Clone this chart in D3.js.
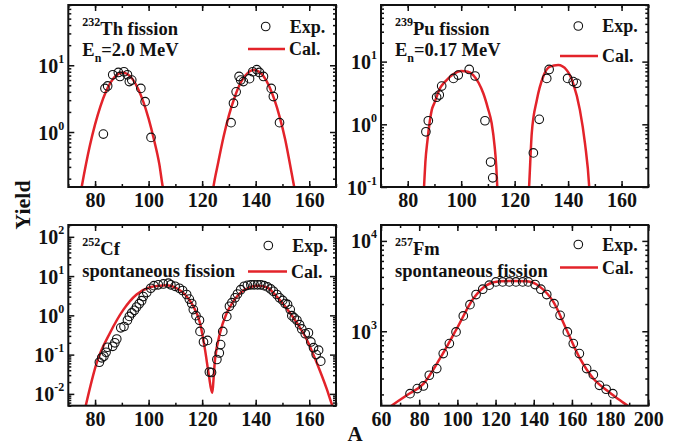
<!DOCTYPE html>
<html><head><meta charset="utf-8">
<script src="https://cdn.jsdelivr.net/npm/d3@7"></script>
<style>
body{margin:0;background:#fff}
text{font-family:"Liberation Serif","Times New Roman",serif;font-weight:bold;fill:#111}
</style>
</head><body><svg id="c" width="689" height="447" font-family="Liberation Serif"></svg>
<script>
// ---------- DATA ----------
const thExpA = [83.1,83.7,84.7,86.6,88.7,89.3,90.8,92.1,92.8,93.7,97.1,98.7,100.9,130.8,131.7,132.7,133.8,134.4,135.4,137.7,138.9,140.4,141.4,142.9,145.8,146.6,148.9];
const thExpY = [0.93,4.5,4.9,7.2,7.8,6.8,8.0,7.2,5.7,6.0,4.5,2.85,0.83,1.38,2.7,4.0,6.8,6.0,5.7,6.3,8.0,8.6,7.8,6.8,4.5,3.4,1.38];
const thCalLA = [74.5,75,78,80,82,84,86,88,90.3,92,94,96,98,100,102,104,105.3,106];
const thCalLY = [0.116,0.15,0.61,1.30,2.43,3.97,5.7,7.1,7.8,7.4,6.2,4.5,2.86,1.59,0.77,0.33,0.15,0.11];
const thCalRA = [123.7,124.2,126,128,130,132,134,136,138,139.4,141,143,145,147,149,151,153,154.4,155];
const thCalRY = [0.11,0.15,0.35,0.85,1.78,3.2,5.1,6.9,8.2,8.5,8.1,6.8,4.9,3.05,1.66,0.78,0.30,0.15,0.115];

const puExpA = [86.8,87.7,90.8,91.8,92.7,97.1,98.9,103.0,105.2,108.9,111.0,111.8,127.0,129.2,132.0,132.9,139.8,141.9,143.2];
const puExpY = [0.76,1.14,2.7,2.93,4.07,5.4,6.1,7.5,5.9,1.14,0.25,0.14,0.35,1.2,5.4,7.5,5.4,4.8,4.5];
const puCalLA = [85.9,86.1,86.6,87.4,89,90,92,94,97,100,102.5,104.5,106.5,108.3,110,111.4,112.5,113.1,113.5,113.7];
const puCalLY = [0.07,0.1,0.25,0.56,1.7,2.2,3.7,4.8,6.3,7.1,6.9,6.1,4.6,3.1,1.8,1.04,0.45,0.22,0.1,0.07];
const puCalRA = [125.2,125.4,126.4,128.3,130.7,133.2,136.3,139.5,141.9,144.4,146.3,147.9,148.1];
const puCalRY = [0.07,0.1,0.72,2.44,5.8,8.3,8.8,7.3,4.5,1.7,0.5,0.1,0.07];

const cfExpA = [81.6,82.5,83.3,84.1,84.6,86.6,87.4,88.1,89.6,90.8,92.1,92.8,93.7,94.7,95.5,96.5,97.4,98.0,99.3,100.8,102.0,103.6,105.5,107.4,108.3,109.9,111.5,112.7,114.2,115.2,116.1,116.7,117.7,119.0,119.2,120.5,122.0,122.7,123.5,125.5,126.4,126.9,127.7,129.2,130.2,131.1,132.3,133.2,134.4,135.7,136.9,138.2,139.4,140.7,141.9,143.1,144.4,145.6,146.6,147.9,148.9,150.1,151.0,151.9,152.9,153.5,154.4,155.4,156.4,157.2,158.5,159.7,160.6,161.6,162.6,163.5,164.3];
const cfExpY = [0.064,0.083,0.091,0.115,0.154,0.163,0.2,0.25,0.48,0.52,0.75,0.94,1.15,1.34,1.63,1.98,2.36,3.0,3.8,4.9,5.7,6.0,6.3,6.6,6.0,5.5,4.9,4.3,3.4,2.6,2.0,1.4,0.98,0.75,0.39,0.21,0.23,0.036,0.035,0.075,0.11,0.18,0.39,0.94,1.7,2.1,2.8,3.5,4.5,5.5,5.8,6.0,6.0,6.0,6.0,5.7,5.3,4.7,4.1,3.4,2.8,2.4,2.0,1.9,1.4,0.98,0.86,0.75,0.58,0.45,0.34,0.36,0.21,0.15,0.1,0.13,0.068];
const cfCalA = [76.0,76.6,80.6,85.6,90.6,95.5,100.5,104.3,106.8,110.5,113.6,116.7,119.2,121.1,122.5,123.7,124.8,126.7,129.2,131.7,134.2,137.9,141,144.1,147.9,151.6,155.4,159.1,162.8,166.6,168.7,169.5];
const cfCalY = [0.0035,0.0053,0.062,0.36,1.4,3.4,5.2,5.7,5.8,4.9,3.4,1.7,0.64,0.13,0.03,0.0107,0.075,0.36,1.15,2.3,3.7,5.2,5.7,5.2,3.0,1.5,0.64,0.24,0.062,0.013,0.0049,0.0037];

const fmExpA = [75.2,79.0,82.2,85.3,89.2,92.6,95.8,99.3,103.1,106.6,109.8,113.3,116.7,120.2,123.7,127.2,130.7,134.2,137.1,140.7,143.7,146.8,150.6,153.8,157.6,160.7,163.9,167.7,171.2,174.4,177.9,181.4];
const fmExpY = [204,232,248,326,386,566,730,984,1480,1970,2550,2920,3240,3520,3520,3520,3520,3520,3520,3290,2920,2550,2020,1500,984,730,566,386,331,252,228,204];
const fmCalA = [63,64.7,73.5,82.2,90.9,99.7,108.4,115.4,122.4,129.4,136.4,143.3,150.3,157.3,164.2,171.2,178.2,185.2,190.1,192];
const fmCalY = [135,145,196,262,500,1070,2300,3240,3570,3600,3570,3100,2110,1025,500,300,222,172,145,135];

const xTicksA = [80,100,120,140,160];
const xTicksB = [60,80,100,120,140,160,180,200];

// ---------- LAYOUT ----------
const zip = (a,b) => a.map((v,i)=>[v,b[i]]);
const panels = [
  {x0:68.3,x1:336,y0:5,y1:187,xDom:[70,170],yDom:[0.15,80],xMajor:xTicksA,xMinor:d3.range(70,171,10),
   yExp:[0,1],exp:zip(thExpA,thExpY),cal:[zip(thCalLA,thCalLY),zip(thCalRA,thCalRY)],
   sup:"232",nuc:"Th fission",line2:["E","n","=2.0 MeV"],sub:true,
   lx:[265.7,26.5],ll:[248,285,49]},
  {x0:381,x1:648.3,y0:5,y1:187,xDom:[70,170],yDom:[0.1,80],xMajor:xTicksA,xMinor:d3.range(70,171,10),
   yExp:[-1,0,1],exp:zip(puExpA,puExpY),cal:[zip(puCalLA,puCalLY),zip(puCalRA,puCalRY)],
   sup:"239",nuc:"Pu fission",line2:["E","n","=0.17 MeV"],sub:true,
   lx:[578.3,26],ll:[560,598,56]},
  {x0:68.3,x1:336,y0:225,y1:405.7,xDom:[70,170],yDom:[0.005,200],xMajor:xTicksA,xMinor:d3.range(70,171,10),
   yExp:[-2,-1,0,1,2],exp:zip(cfExpA,cfExpY),cal:[zip(cfCalA,cfCalY)],
   sup:"252",nuc:"Cf",line2:["spontaneous fission"],sub:false,
   lx:[268.3,245.5],ll:[248,287,271.5]},
  {x0:381,x1:648.3,y0:225,y1:405.7,xDom:[60,200],yDom:[150,15000],xMajor:xTicksB,xMinor:d3.range(60,201,10),
   yExp:[3,4],exp:zip(fmExpA,fmExpY),cal:[zip(fmCalA,fmCalY)],
   sup:"257",nuc:"Fm",line2:["spontaneous fission"],sub:false,
   lx:[578.3,244.5],ll:[560,598,267.5]}
];

const svg = d3.select("#c");
const RED = "#e3232a";

panels.forEach((p,i) => {
  const x = d3.scaleLinear().domain(p.xDom).range([p.x0,p.x1]);
  const y = d3.scaleLog().domain(p.yDom).range([p.y1,p.y0]);
  const g = svg.append("g");
  const cid = "clip"+i;
  svg.append("clipPath").attr("id",cid).append("rect")
    .attr("x",p.x0).attr("y",p.y0).attr("width",p.x1-p.x0).attr("height",p.y1-p.y0);

  const [lo,hi] = p.yDom;
  const yMinor = [];
  for (let e=Math.floor(Math.log10(lo)); e<=Math.ceil(Math.log10(hi)); e++)
    for (let m=2;m<10;m++){const v=m*Math.pow(10,e); if(v>=lo*0.999&&v<=hi*1.001) yMinor.push(v);}
  const yMajor = p.yExp.map(e=>Math.pow(10,e));

  const styleAx = sel => {
    sel.attr("font-family",null).attr("font-size",null);
    sel.select(".domain").remove();
    sel.selectAll("line").attr("stroke","#111").attr("stroke-width",1.5);
  };

  // bottom
  g.append("g").attr("transform",`translate(0,${p.y1})`)
    .call(d3.axisBottom(x).tickValues(p.xMinor).tickSize(-3).tickFormat("")).call(styleAx);
  const bx = g.append("g").attr("transform",`translate(0,${p.y1})`)
    .call(d3.axisBottom(x).tickValues(p.xMajor).tickSize(-6).tickPadding(6).tickFormat(d3.format("d"))).call(styleAx);
  bx.selectAll("text").attr("font-size",20).attr("fill","#111");
  // top
  g.append("g").attr("transform",`translate(0,${p.y0})`)
    .call(d3.axisTop(x).tickValues(p.xMinor).tickSize(-3).tickFormat("")).call(styleAx);
  g.append("g").attr("transform",`translate(0,${p.y0})`)
    .call(d3.axisTop(x).tickValues(p.xMajor).tickSize(-6).tickFormat("")).call(styleAx);
  // left
  g.append("g").attr("transform",`translate(${p.x0},0)`)
    .call(d3.axisLeft(y).tickValues(yMinor).tickSize(-3).tickFormat("")).call(styleAx);
  const ly = g.append("g").attr("transform",`translate(${p.x0},0)`)
    .call(d3.axisLeft(y).tickValues(yMajor).tickSize(-6).tickPadding(4).tickFormat("")).call(styleAx);
  ly.selectAll(".tick").each(function(d){
    const t = d3.select(this).select("text").attr("fill","#111").attr("dy",null).attr("y",7);
    t.append("tspan").attr("font-size",20).text("10");
    t.append("tspan").attr("font-size",12).attr("dy",-10).text(String(Math.round(Math.log10(d))));
  });
  // right
  g.append("g").attr("transform",`translate(${p.x1},0)`)
    .call(d3.axisRight(y).tickValues(yMinor).tickSize(-3).tickFormat("")).call(styleAx);
  g.append("g").attr("transform",`translate(${p.x1},0)`)
    .call(d3.axisRight(y).tickValues(yMajor).tickSize(-6).tickFormat("")).call(styleAx);

  // curves
  const line = d3.line().x(d=>x(d[0])).y(d=>y(d[1])).curve(d3.curveMonotoneX);
  const cg = g.append("g").attr("clip-path",`url(#${cid})`);
  p.cal.forEach(seg => cg.append("path").attr("d",line(seg)).attr("fill","none")
    .attr("stroke",RED).attr("stroke-width",2.5));
  cg.selectAll("circle.e").data(p.exp).enter().append("circle")
    .attr("cx",d=>x(d[0])).attr("cy",d=>y(d[1])).attr("r",4.3)
    .attr("fill","none").attr("stroke","#111").attr("stroke-width",1.1);

  // frame
  g.append("rect").attr("x",p.x0).attr("y",p.y0).attr("width",p.x1-p.x0).attr("height",p.y1-p.y0)
    .attr("fill","none").attr("stroke","#111").attr("stroke-width",2);

  // annotation
  const ax = p.x0+14;
  const t1 = g.append("text").attr("x",ax).attr("y",p.y0+30);
  t1.append("tspan").attr("font-size",12).attr("dy",-9).text(p.sup);
  t1.append("tspan").attr("font-size",18.5).attr("dy",9).text(p.nuc);
  const t2 = g.append("text").attr("x",ax).attr("y",p.y0+(p.sub?51:51.5)).attr("font-size",18.5);
  if (p.sub) {
    t2.append("tspan").text(p.line2[0]);
    t2.append("tspan").attr("font-size",12).attr("dy",6).text(p.line2[1]);
    t2.append("tspan").attr("dy",-6).text(p.line2[2]);
  } else t2.text(p.line2[0]);

  // legend
  g.append("circle").attr("cx",p.lx[0]).attr("cy",p.lx[1]).attr("r",4.3)
    .attr("fill","none").attr("stroke","#111").attr("stroke-width",1.1);
  g.append("text").attr("x",p.lx[0]+24).attr("y",p.lx[1]+6).attr("font-size",18).text("Exp.");
  g.append("line").attr("x1",p.ll[0]).attr("x2",p.ll[1]).attr("y1",p.ll[2]).attr("y2",p.ll[2])
    .attr("stroke",RED).attr("stroke-width",2.5);
  g.append("text").attr("x",p.ll[1]+4).attr("y",p.ll[2]+6).attr("font-size",18).text("Cal.");
});

// axis titles
svg.append("text").attr("transform","translate(30,205) rotate(-90)").attr("text-anchor","middle")
  .attr("font-size",22).text("Yield");
svg.append("text").attr("x",355).attr("y",441).attr("text-anchor","middle").attr("font-size",21).text("A");
</script>
</body></html>
